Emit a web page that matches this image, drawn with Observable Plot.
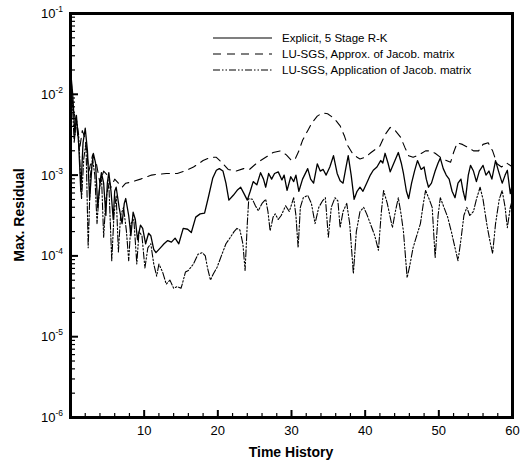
<!DOCTYPE html>
<html><head><meta charset="utf-8">
<script src="https://cdn.jsdelivr.net/npm/d3@7"></script>
<script src="https://cdn.jsdelivr.net/npm/@observablehq/plot@0.6"></script>
<style>
body{margin:0;background:#fff;font-family:"Liberation Sans",Arial,sans-serif;}
</style></head><body><div id="chart"></div>
<script>
// Series: time and log10(max residual)
const solidT = [0,0.3,0.6,0.8,1.1,1.4,1.7,2.0,2.3,2.6,2.9,3.1,3.4,3.7,4.0,4.2,4.5,4.8,5.0,5.2,5.5,5.8,6.0,6.2,6.6,7.0,7.3,7.5,7.9,8.2,8.5,8.8,9.1,9.5,9.8,10.2,10.6,10.9,11.3,11.6,12.2,12.7,13.2,13.7,14.2,14.7,15.3,15.9,16.4,17.0,17.6,18.2,18.7,19.3,19.8,20.2,20.7,21.1,21.5,22.1,22.7,23.1,23.5,24.0,24.4,24.8,25.3,25.8,26.2,26.5,26.9,27.3,27.7,28.2,28.7,29.0,29.4,29.9,30.3,30.6,31.0,31.5,32.2,32.6,33.0,33.5,33.9,34.3,34.7,35.2,35.7,36.2,36.6,37.0,37.4,37.7,38.1,38.5,38.9,39.3,39.7,40.2,40.7,41.1,41.6,42.1,42.4,42.7,43.1,43.4,43.9,44.5,44.9,45.2,45.6,45.9,46.3,46.7,47.1,47.6,48.0,48.3,48.6,49.0,49.5,49.9,50.2,50.6,51.0,51.4,51.8,52.2,52.6,53.0,53.3,53.6,54.0,54.3,54.7,55.1,55.5,56.0,56.4,56.8,57.2,57.7,58.1,58.6,59.0,59.3,59.7,60];
const solidLog = [-1.7,-2.0,-2.5,-2.26,-2.6,-3.2,-2.6,-2.42,-2.7,-3.3,-2.9,-2.73,-2.85,-3.4,-3.1,-2.97,-3.1,-3.5,-3.1,-2.97,-3.2,-3.55,-3.2,-3.15,-3.4,-3.6,-3.35,-3.29,-3.5,-3.75,-3.46,-3.55,-3.8,-3.62,-3.66,-3.85,-3.72,-3.75,-3.92,-3.96,-3.9,-3.85,-3.81,-3.83,-3.78,-3.85,-3.66,-3.67,-3.71,-3.52,-3.48,-3.47,-3.28,-3.04,-2.94,-2.92,-2.95,-3.1,-3.31,-3.25,-3.18,-3.15,-3.22,-3.31,-3.2,-3.08,-3.12,-2.97,-3.05,-3.15,-2.98,-3.05,-2.98,-2.96,-3.06,-3.0,-3.19,-3.02,-3.08,-3.0,-3.2,-3.05,-2.92,-3.05,-3.1,-2.86,-2.95,-2.93,-3.0,-2.9,-2.76,-2.98,-3.07,-3.1,-2.9,-2.76,-3.0,-3.3,-3.2,-3.15,-3.2,-3.1,-3.0,-2.94,-2.9,-2.82,-2.85,-2.73,-2.85,-2.96,-2.85,-2.72,-2.85,-2.98,-3.2,-3.29,-3.1,-2.95,-2.82,-2.93,-2.9,-3.05,-3.15,-3.1,-2.95,-2.85,-2.79,-2.92,-3.0,-3.05,-3.2,-3.28,-3.1,-3.05,-3.2,-3.31,-3.0,-2.88,-2.95,-3.08,-2.95,-2.88,-3.0,-2.95,-3.05,-2.82,-2.95,-3.1,-3.0,-2.94,-3.23,-3.1];

const dashT = [0,0.4,0.8,1.2,1.6,2.0,2.5,3.0,3.5,4.0,4.5,5.0,5.5,6.0,6.5,7.0,7.5,8.1,9.5,11.0,11.8,13.0,14.5,15.5,16.7,18.0,19.0,19.8,20.5,21.4,22.5,23.5,24.3,25.3,26.5,27.5,28.5,29.3,30.0,30.5,31.0,31.5,32.2,32.8,33.5,34.2,34.9,35.8,36.6,37.2,37.6,38.2,38.9,39.3,40.0,40.8,42.0,42.7,43.4,44.0,44.8,45.4,45.9,46.5,47.3,48.2,48.8,49.5,50.5,51.6,52.0,52.5,53.2,54.0,54.7,55.4,56.0,56.7,57.3,57.9,58.5,59.2,60];
const dashLog = [-1.9,-2.2,-2.35,-2.7,-2.45,-2.55,-2.95,-2.75,-2.85,-3.1,-2.95,-3.0,-3.15,-3.05,-3.1,-3.15,-3.1,-3.09,-3.05,-3.0,-2.99,-2.98,-2.98,-2.95,-2.9,-2.82,-2.78,-2.78,-2.84,-2.93,-2.95,-2.92,-2.93,-2.85,-2.78,-2.72,-2.70,-2.75,-2.82,-2.8,-2.7,-2.57,-2.45,-2.35,-2.27,-2.23,-2.24,-2.3,-2.39,-2.52,-2.63,-2.72,-2.78,-2.8,-2.78,-2.72,-2.64,-2.5,-2.41,-2.44,-2.53,-2.66,-2.76,-2.78,-2.75,-2.7,-2.7,-2.73,-2.8,-2.84,-2.72,-2.6,-2.62,-2.66,-2.7,-2.70,-2.62,-2.6,-2.7,-2.86,-2.9,-2.85,-2.9];

const dotT = [0,0.2,0.5,0.8,1.1,1.5,1.8,2.1,2.4,2.7,3.0,3.3,3.6,3.9,4.2,4.5,4.8,5.2,5.6,5.9,6.2,6.5,6.8,7.2,7.6,7.9,8.2,8.6,9.0,9.3,9.7,10.1,10.5,10.9,11.3,11.7,12.0,12.5,13.0,13.5,14.0,14.5,15.0,15.2,15.6,16.0,16.7,17.3,17.9,18.3,18.6,19.0,19.4,19.9,20.6,21.1,21.7,22.2,22.6,23.0,23.4,23.7,24.0,24.2,24.7,25.1,25.5,26.0,26.5,26.8,27.1,27.5,27.8,28.2,28.6,29.2,29.7,30.3,30.6,30.9,31.2,31.6,32.2,32.7,33.2,33.7,34.2,34.6,35.0,35.4,35.9,36.3,36.6,37.0,37.5,37.9,38.4,38.8,39.3,39.8,40.2,40.7,41.3,41.8,42.2,42.5,43.0,43.7,44.1,44.5,44.9,45.2,45.7,46.1,46.5,47.0,47.5,47.9,48.2,48.7,49.1,49.5,49.9,50.2,50.7,51.2,51.7,52.2,52.6,53.0,53.4,53.8,54.2,54.7,55.1,55.6,56.0,56.5,56.9,57.3,57.7,58.2,58.6,59.0,59.3,59.7,60];
const dotLog = [-1.63,-2.0,-2.6,-2.3,-2.5,-3.3,-2.8,-2.6,-3.9,-3.0,-2.8,-3.0,-3.6,-3.2,-3.0,-3.77,-3.3,-3.1,-4.06,-3.5,-3.25,-3.95,-3.5,-3.4,-3.7,-4.06,-3.6,-3.55,-4.1,-3.7,-3.75,-4.15,-3.9,-3.85,-4.1,-4.25,-4.1,-4.2,-4.35,-4.3,-4.4,-4.38,-4.4,-4.34,-4.2,-4.18,-4.1,-3.98,-3.96,-4.0,-4.15,-4.3,-4.22,-4.14,-3.97,-3.85,-3.77,-3.7,-3.66,-3.68,-3.85,-4.18,-3.6,-3.29,-3.3,-3.38,-3.44,-3.35,-3.3,-3.45,-3.69,-3.52,-3.48,-3.55,-3.5,-3.38,-3.45,-3.28,-3.5,-3.9,-3.4,-3.28,-3.25,-3.35,-3.6,-3.4,-3.32,-3.28,-3.77,-3.4,-3.28,-3.32,-3.65,-3.45,-3.35,-3.6,-4.22,-3.7,-3.45,-3.4,-3.48,-3.6,-3.75,-3.93,-3.45,-3.19,-3.35,-3.65,-3.45,-3.28,-3.5,-3.7,-4.27,-4.1,-3.9,-3.75,-3.6,-3.35,-3.19,-3.3,-3.4,-4.02,-3.5,-3.28,-3.4,-3.52,-3.7,-3.9,-4.06,-3.8,-3.5,-3.4,-3.5,-3.45,-3.3,-3.15,-3.3,-3.6,-3.8,-3.97,-3.6,-3.3,-3.19,-3.4,-3.65,-3.4,-3.3];

const seriesNames = ["Explicit, 5 Stage R-K", "LU-SGS, Approx. of Jacob. matrix", "LU-SGS, Application of Jacob. matrix"];
const yTickExps = [-1,-2,-3,-4,-5,-6];
const xTickValues = [10,20,30,40,50,60];
const xMinorTicks = [2,4,6,8,12,14,16,18,22,24,26,28,32,34,36,38,42,44,46,48,52,54,56,58];
const xLabel = "Time History";
const yLabel = "Max. Residual";

const toRows = (ts, ls) => ts.map((t,i)=>({t, v: Math.pow(10, ls[i])}));
const solid = toRows(solidT, solidLog);
const dashed = toRows(dashT, dashLog);
const dotted = toRows(dotT, dotLog);

const yMajor = yTickExps.map(e => Math.pow(10, e));
const yMinor = [];
for (const e of [-6,-5,-4,-3,-2]) for (let k=2;k<=9;k++) yMinor.push(k*Math.pow(10,e));

const W=524, H=465, mL=70, mR=12, mT=13, mB=48;
const pw = W-mL-mR, ph = H-mT-mB;
const dashes = [null, "8,6", "7,2,1.5,2,1.5,2"];

const plot = Plot.plot({
  width: W, height: H,
  marginLeft: mL, marginRight: mR, marginTop: mT, marginBottom: mB,
  style: {fontFamily: "Liberation Sans, Arial, sans-serif", background: "#fff"},
  x: {domain: [0,60], axis: null},
  y: {type: "log", domain: [1e-6, 1e-1], axis: null},
  marks: [
    Plot.line(dotted, {x:"t", y:"v", stroke:"#000", strokeWidth:1.1, strokeDasharray: dashes[2]}),
    Plot.line(dashed, {x:"t", y:"v", stroke:"#000", strokeWidth:1.1, strokeDasharray: dashes[1]}),
    Plot.line(solid, {x:"t", y:"v", stroke:"#000", strokeWidth:1.3}),
    Plot.tickY(yMajor, {y: d=>d, stroke:"#000", strokeWidth:2, insetRight: pw-8}),
    Plot.tickY(yMinor, {y: d=>d, stroke:"#000", strokeWidth:1.2, insetRight: pw-5}),
    Plot.tickX(xTickValues, {x: d=>d, stroke:"#000", strokeWidth:2, insetTop: ph-7}),
    Plot.tickX(xMinorTicks, {x: d=>d, stroke:"#000", strokeWidth:1.2, insetTop: ph-4}),
    Plot.axisX({ticks: xTickValues, tickSize: 0, tickPadding: 8, fontSize: 13, label: null}),
    Plot.frame({stroke:"#000", strokeWidth:3})
  ]
});
document.getElementById("chart").appendChild(plot);

const svg = d3.select(plot);
const ys = plot.scale("y");
// y tick labels with superscripts
yTickExps.forEach(e => {
  const y = ys.apply(Math.pow(10,e));
  const t = svg.append("text").attr("x", mL-7).attr("y", y+5).attr("text-anchor","end")
    .attr("font-size", 13).attr("fill","#000");
  t.append("tspan").text("10");
  t.append("tspan").attr("font-size", 8.5).attr("dy", -6).text(String(e));
});
svg.append("text").attr("x", mL + pw/2).attr("y", H-8).attr("text-anchor","middle")
  .attr("font-size", 14).attr("font-weight","bold").text(xLabel);
svg.append("text").attr("transform", `translate(24,${mT+ph/2}) rotate(-90)`).attr("text-anchor","middle")
  .attr("font-size", 14).attr("font-weight","bold").text(yLabel);

// legend
const lg = svg.append("g");
seriesNames.forEach((name,i) => {
  const y = 38 + i*16;
  lg.append("line").attr("x1",213).attr("x2",272).attr("y1",y).attr("y2",y)
    .attr("stroke","#000").attr("stroke-width",1.1).attr("stroke-dasharray", dashes[i]);
  lg.append("text").attr("x",282).attr("y",y+4).attr("text-anchor","start")
    .attr("font-size",11.5).attr("fill","#000").text(name);
});
</script></body></html>
